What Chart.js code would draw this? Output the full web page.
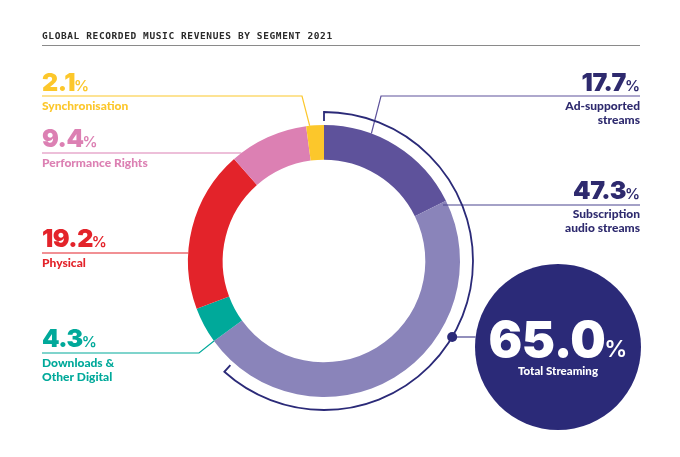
<!DOCTYPE html>
<html>
<head>
<meta charset="utf-8">
<script src="https://cdn.jsdelivr.net/npm/chart.js@4.4.1/dist/chart.umd.min.js"></script>
<style>
  html, body { margin: 0; padding: 0; background: #fff; }
  #wrap { width: 680px; height: 457px; position: relative; }
</style>
</head>
<body>
<div id="wrap"><canvas id="segmentChart"></canvas></div>
<script>
// data
const chartTitle = 'GLOBAL RECORDED MUSIC REVENUES BY SEGMENT 2021';
const segments = ['Ad-supported streams', 'Subscription audio streams', 'Downloads & Other Digital', 'Physical', 'Performance Rights', 'Synchronisation'];
const shares = [17.7, 47.3, 4.3, 19.2, 9.4, 2.1];
const segmentColors = ['#5e529b', '#8a84ba', '#00a99a', '#e3232a', '#dc80b3', '#fcc72b'];
const streamingTotal = 65.0;
const streamingLabel = 'Total Streaming';

const navy = '#2b2a78';

// label layout: side, baseline of the number, leader line y, text lines
const labelLayout = [
  { side: 'right', numY: 91, lineY: 96, lines: ['Ad-supported', 'streams'], textY: 110, color: '#2e2a6e', lineColor: '#5e529b' },
  { side: 'right', numY: 199, lineY: 205, lines: ['Subscription', 'audio streams'], textY: 218, color: '#2e2a6e', lineColor: '#4a4590' },
  { side: 'left', numY: 347, lineY: 353, lines: ['Downloads &', 'Other Digital'], textY: 367, color: '#00a99a', lineColor: '#00a99a' },
  { side: 'left', numY: 247, lineY: 253, lines: ['Physical'], textY: 267, color: '#e3232a', lineColor: '#e3232a' },
  { side: 'left', numY: 147, lineY: 153, lines: ['Performance Rights'], textY: 167, color: '#dc80b3', lineColor: '#dc80b3' },
  { side: 'left', numY: 91, lineY: 96, lines: ['Synchronisation'], textY: 110, color: '#fcc72b', lineColor: '#fcc72b' }
];

const LEFT_X = 42, RIGHT_X = 640;
const NUM_FONT = 'Inter';
const TEXT_FONT = 'Lato';

function ringPoint(arc, angle, r) {
  return [arc.x + r * Math.cos(angle), arc.y + r * Math.sin(angle)];
}

function ringAtY(arc, y, dir) {
  const dy = y - arc.y;
  return [arc.x + dir * Math.sqrt(arc.outerRadius * arc.outerRadius - dy * dy), y];
}

function leaderPath(i, arcs) {
  const a = arcs[i], L = labelLayout[i];
  const R = a.outerRadius;
  const span = a.endAngle - a.startAngle;
  switch (i) {
    case 0: return [[RIGHT_X, L.lineY], [381, L.lineY], ringPoint(a, a.startAngle + span * 0.32, R)];
    case 1: return [[RIGHT_X, L.lineY], [443, L.lineY]];
    case 2: return [[LEFT_X, L.lineY], [199, L.lineY], ringPoint(a, a.startAngle, R)];
    case 3: return [[LEFT_X, L.lineY], ringAtY(a, L.lineY, -1)];
    case 4: return [[LEFT_X, L.lineY], ringAtY(a, L.lineY, -1)];
    case 5: return [[LEFT_X, L.lineY], [302, L.lineY], ringPoint(a, a.startAngle + span * 0.2, R)];
  }
}

function drawNumber(ctx, value, x, y, side, color, bigSize, pctSize) {
  const num = value.toFixed(1);
  const gap = -1;
  ctx.fillStyle = color;
  ctx.textBaseline = 'alphabetic';
  ctx.textAlign = 'left';
  ctx.font = '900 ' + bigSize + 'px ' + NUM_FONT;
  ctx.letterSpacing = '-0.5px';
  const w1 = ctx.measureText(num).width;
  ctx.letterSpacing = '0px';
  ctx.font = '600 ' + pctSize + 'px ' + NUM_FONT;
  const w2 = ctx.measureText('%').width;
  let start = x;
  if (side === 'right') start = x - w1 - w2 - gap;
  if (side === 'center') start = x - (w1 + w2 + gap) / 2;
  ctx.font = '900 ' + bigSize + 'px ' + NUM_FONT;
  ctx.letterSpacing = '-0.5px';
  ctx.fillText(num, start, y);
  ctx.letterSpacing = '0px';
  ctx.font = '600 ' + pctSize + 'px ' + NUM_FONT;
  ctx.fillText('%', start + w1 + gap, y);
}

const annotations = {
  id: 'annotations',
  afterDraw(chart) {
    const ctx = chart.ctx;
    const arcs = chart.getDatasetMeta(0).data;
    const a0 = arcs[0];
    ctx.save();

    // title + rule
    ctx.fillStyle = '#2a2a2a';
    ctx.font = 'bold 9.5px "DejaVu Sans Mono"';
    ctx.letterSpacing = '0.6px';
    ctx.textAlign = 'left';
    ctx.textBaseline = 'alphabetic';
    ctx.fillText(chartTitle, LEFT_X, 39);
    ctx.letterSpacing = '0px';
    ctx.strokeStyle = '#8a8a8a';
    ctx.lineWidth = 1;
    ctx.beginPath();
    ctx.moveTo(LEFT_X, 45.5);
    ctx.lineTo(RIGHT_X, 45.5);
    ctx.stroke();

    // labels and leader lines
    labelLayout.forEach((L, i) => {
      const x = L.side === 'left' ? LEFT_X : RIGHT_X;
      drawNumber(ctx, shares[i], x, L.numY, L.side, L.color, 25, 15);
      ctx.font = '900 12px ' + TEXT_FONT;
      ctx.textAlign = L.side === 'left' ? 'left' : 'right';
      L.lines.forEach((t, k) => ctx.fillText(t, x, L.textY + k * 13.5));

      const path = leaderPath(i, arcs);
      ctx.strokeStyle = L.lineColor;
      ctx.lineWidth = 1.2;
      ctx.beginPath();
      path.forEach((p, k) => k ? ctx.lineTo(p[0], p[1]) : ctx.moveTo(p[0], p[1]));
      ctx.stroke();
    });

    // streaming bracket around ad-supported + subscription
    const bR = a0.outerRadius + 13;
    const bStart = arcs[0].startAngle;
    const bEnd = arcs[1].endAngle - 0.21;
    ctx.strokeStyle = navy;
    ctx.lineWidth = 1.8;
    ctx.beginPath();
    let p = ringPoint(a0, bStart, bR - 9);
    ctx.moveTo(p[0], p[1]);
    p = ringPoint(a0, bStart, bR);
    ctx.lineTo(p[0], p[1]);
    ctx.arc(a0.x, a0.y, bR, bStart, bEnd);
    p = ringPoint(a0, bEnd, bR - 9);
    ctx.lineTo(p[0], p[1]);
    ctx.stroke();

    // dot + connector to total circle
    const cx = 558, cy = 347, cr = 83;
    const dotY = 337;
    const dotX = a0.x + Math.sqrt(bR * bR - (dotY - a0.y) * (dotY - a0.y));
    ctx.strokeStyle = '#4a4590';
    ctx.lineWidth = 1.2;
    ctx.beginPath();
    ctx.moveTo(dotX, dotY);
    ctx.lineTo(cx - Math.sqrt(cr * cr - (dotY - cy) * (dotY - cy)), dotY);
    ctx.stroke();
    ctx.fillStyle = navy;
    ctx.beginPath();
    ctx.arc(dotX, dotY, 5, 0, Math.PI * 2);
    ctx.fill();

    ctx.beginPath();
    ctx.arc(cx, cy, cr, 0, Math.PI * 2);
    ctx.fill();
    drawNumber(ctx, streamingTotal, cx, 357, 'center', '#fff', 50, 23);
    ctx.font = '900 11.5px ' + TEXT_FONT;
    ctx.textAlign = 'center';
    ctx.fillStyle = '#fff';
    ctx.fillText(streamingLabel, cx, 375);

    ctx.restore();
  }
};

new Chart(document.getElementById('segmentChart').getContext('2d'), {
  type: 'doughnut',
  data: {
    labels: segments,
    datasets: [{
      data: shares,
      backgroundColor: segmentColors,
      borderWidth: 0
    }]
  },
  options: {
    responsive: true,
    maintainAspectRatio: false,
    animation: false,
    cutout: '74.5%',
    layout: { padding: { left: 188, right: 220, top: 125, bottom: 60 } },
    plugins: {
      legend: { display: false },
      tooltip: { enabled: false }
    }
  },
  plugins: [annotations]
});
</script>
</body>
</html>
